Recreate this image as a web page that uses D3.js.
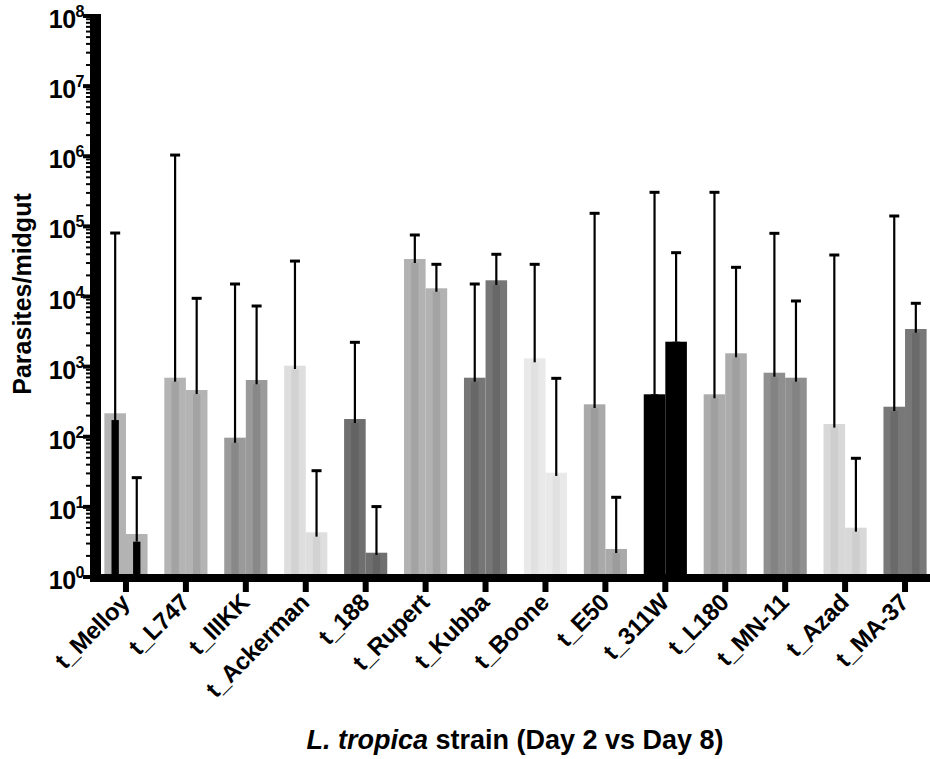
<!DOCTYPE html>
<html>
<head>
<meta charset="utf-8">
<script src="https://cdn.jsdelivr.net/npm/d3@7"></script>
<style>
  html, body { margin: 0; padding: 0; background: #fff; }
  svg { display: block; font-family: "Liberation Sans", Arial, Helvetica, sans-serif; }
</style>
</head>
<body>
<svg id="chart" width="930" height="759"></svg>
<script>
// ---------------- DATA ----------------
const strains = ["t_Melloy","t_L747","t_IIIKK","t_Ackerman","t_188","t_Rupert","t_Kubba",
                 "t_Boone","t_E50","t_311W","t_L180","t_MN-11","t_Azad","t_MA-37"];
const days = ["Day 2", "Day 8"];
// bar heights (parasites / midgut)
const day2Values = [216, 695, 97, 1031, 179, 34270, 695, 1314, 290, 403, 403, 819, 152, 268];
const day8Values = [4.1, 464, 645, 4.34, 2.22, 13090, 17020, 30.7, 2.51, 2266, 1549, 695, 5.05, 3440];
// inner (central) stripe heights
const day2Inner = [173, 610, 82, 925, 157, 30050, 610, 1153, 257, 403, 354, 718, 135, 233];
const day8Inner = [3.19, 407, 560, 3.76, 2.06, 11700, 14590, 27.6, 2.2, 2266, 1358, 610, 4.43, 3050];
// upper error bar ends
const day2ErrTop = [80400, 1040000, 15070, 32000, 2222, 75360, 15070, 28770, 153600, 306000, 306000, 79600, 39060, 140600];
const day8ErrTop = [26.1, 9420, 7320, 32.8, 10.1, 28770, 40000, 681, 13.7, 42150, 26070, 8630, 49.3, 8000];
const yTickExponents = [0, 1, 2, 3, 4, 5, 6, 7, 8];

// ---------------- STYLE ----------------
const outerFill = ["#b3b3b3","#b4b4b4","#9a9a9a","#dedede","#6f6f6f","#b2b2b2","#767676",
                   "#e9e9e9","#a9a9a9","#000000","#acacac","#8f8f8f","#d8d8d8","#787878"];
const innerFill = ["#000000","#a3a3a3","#888888","#d2d2d2","#636363","#a3a3a3","#686868",
                   "#e1e1e1","#9c9c9c","#000000","#a0a0a0","#838383","#cecece","#6a6a6a"];

// ---------------- BUILD ----------------
const svg = d3.select("#chart");
const rows = strains.map((s, i) => ({
  strain: s, i,
  bars: [
    {day: days[0], v: day2Values[i], inner: day2Inner[i], err: day2ErrTop[i]},
    {day: days[1], v: day8Values[i], inner: day8Inner[i], err: day8ErrTop[i]}
  ]
}));

const y = d3.scaleLog().domain([1, 1e8]).range([577, 16]);
const x = d3.scaleBand().domain(strains).range([96, 935]).paddingInner(0.28).paddingOuter(0.14);
const xd = d3.scaleBand().domain(days).range([0, x.bandwidth()]).padding(0);

const g = svg.append("g");
const groups = g.selectAll("g.grp").data(rows).join("g")
  .attr("class", "grp")
  .attr("transform", d => `translate(${x(d.strain)},0)`);

const bars = groups.selectAll("g.bar").data(d => d.bars.map(b => ({...b, i: d.i}))).join("g")
  .attr("class", "bar")
  .attr("transform", d => `translate(${xd(d.day)},0)`);

const bw = xd.bandwidth();
bars.append("rect")
  .attr("x", 0).attr("width", bw)
  .attr("y", d => y(d.v)).attr("height", d => y(1) - y(d.v))
  .attr("fill", d => outerFill[d.i]);

const sw = bw * 0.34;
bars.append("rect")
  .attr("x", (bw - sw) / 2).attr("width", sw)
  .attr("y", d => y(d.inner)).attr("height", d => y(1) - y(d.inner))
  .attr("fill", d => innerFill[d.i]);

// error bars
bars.append("line")
  .attr("x1", bw / 2).attr("x2", bw / 2)
  .attr("y1", d => y(d.inner)).attr("y2", d => y(d.err))
  .attr("stroke", "#000").attr("stroke-width", 2.2);
bars.append("line")
  .attr("x1", bw / 2 - 5).attr("x2", bw / 2 + 5)
  .attr("y1", d => y(d.err)).attr("y2", d => y(d.err))
  .attr("stroke", "#000").attr("stroke-width", 3);

// ---------------- AXES ----------------
// y axis spine (thick)
svg.append("rect").attr("x", 90).attr("y", y(1e8) - 2).attr("width", 11).attr("height", y(1) - y(1e8) + 7).attr("fill", "#000");
// minor ticks
const minor = [];
yTickExponents.slice(0, -1).forEach(e => { for (let m = 2; m <= 9; m++) minor.push(m * Math.pow(10, e)); });
svg.append("g").selectAll("line").data(minor).join("line")
  .attr("x1", 86).attr("x2", 91)
  .attr("y1", d => y(d)).attr("y2", d => y(d))
  .attr("stroke", "#000").attr("stroke-width", 2);
// major ticks + labels
const yTicks = svg.append("g").selectAll("g").data(yTickExponents).join("g")
  .attr("transform", e => `translate(0,${y(Math.pow(10, e))})`);
yTicks.append("line").attr("x1", 83).attr("x2", 91).attr("y1", 0).attr("y2", 0)
  .attr("stroke", "#000").attr("stroke-width", 4);
const yl = yTicks.append("text")
  .attr("x", 84).attr("y", 12)
  .attr("text-anchor", "end")
  .attr("font-weight", "bold").attr("font-size", 25).attr("fill", "#000")
  .attr("letter-spacing", -0.5);
yl.append("tspan").text("10");
yl.append("tspan").attr("dy", -11).attr("font-size", 16).text(e => e);

// x axis line
svg.append("rect").attr("x", 90).attr("y", 574).attr("width", 840).attr("height", 8).attr("fill", "#000");
// x ticks
const xt = svg.append("g").selectAll("g").data(strains).join("g")
  .attr("transform", s => `translate(${x(s) + x.bandwidth() / 2},0)`);
xt.append("rect").attr("x", -3).attr("y", 580).attr("width", 6).attr("height", 12).attr("fill", "#000");
xt.append("text")
  .attr("transform", "translate(5,604) rotate(-45)")
  .attr("text-anchor", "end")
  .attr("font-weight", "bold").attr("font-size", 24).attr("fill", "#000")
  .attr("letter-spacing", -0.3)
  .text(s => s);

// axis titles
const xTitle = svg.append("text")
  .attr("x", 515).attr("y", 749)
  .attr("text-anchor", "middle")
  .attr("font-weight", "bold").attr("font-size", 27).attr("fill", "#000");
xTitle.append("tspan").attr("font-style", "italic").text("L. tropica");
xTitle.append("tspan").text(" strain (Day 2 vs Day 8)");

svg.append("text")
  .attr("transform", "translate(31,294) rotate(-90)")
  .attr("text-anchor", "middle")
  .attr("font-weight", "bold").attr("font-size", 25).attr("fill", "#000")
  .text("Parasites/midgut");
</script>
</body>
</html>
